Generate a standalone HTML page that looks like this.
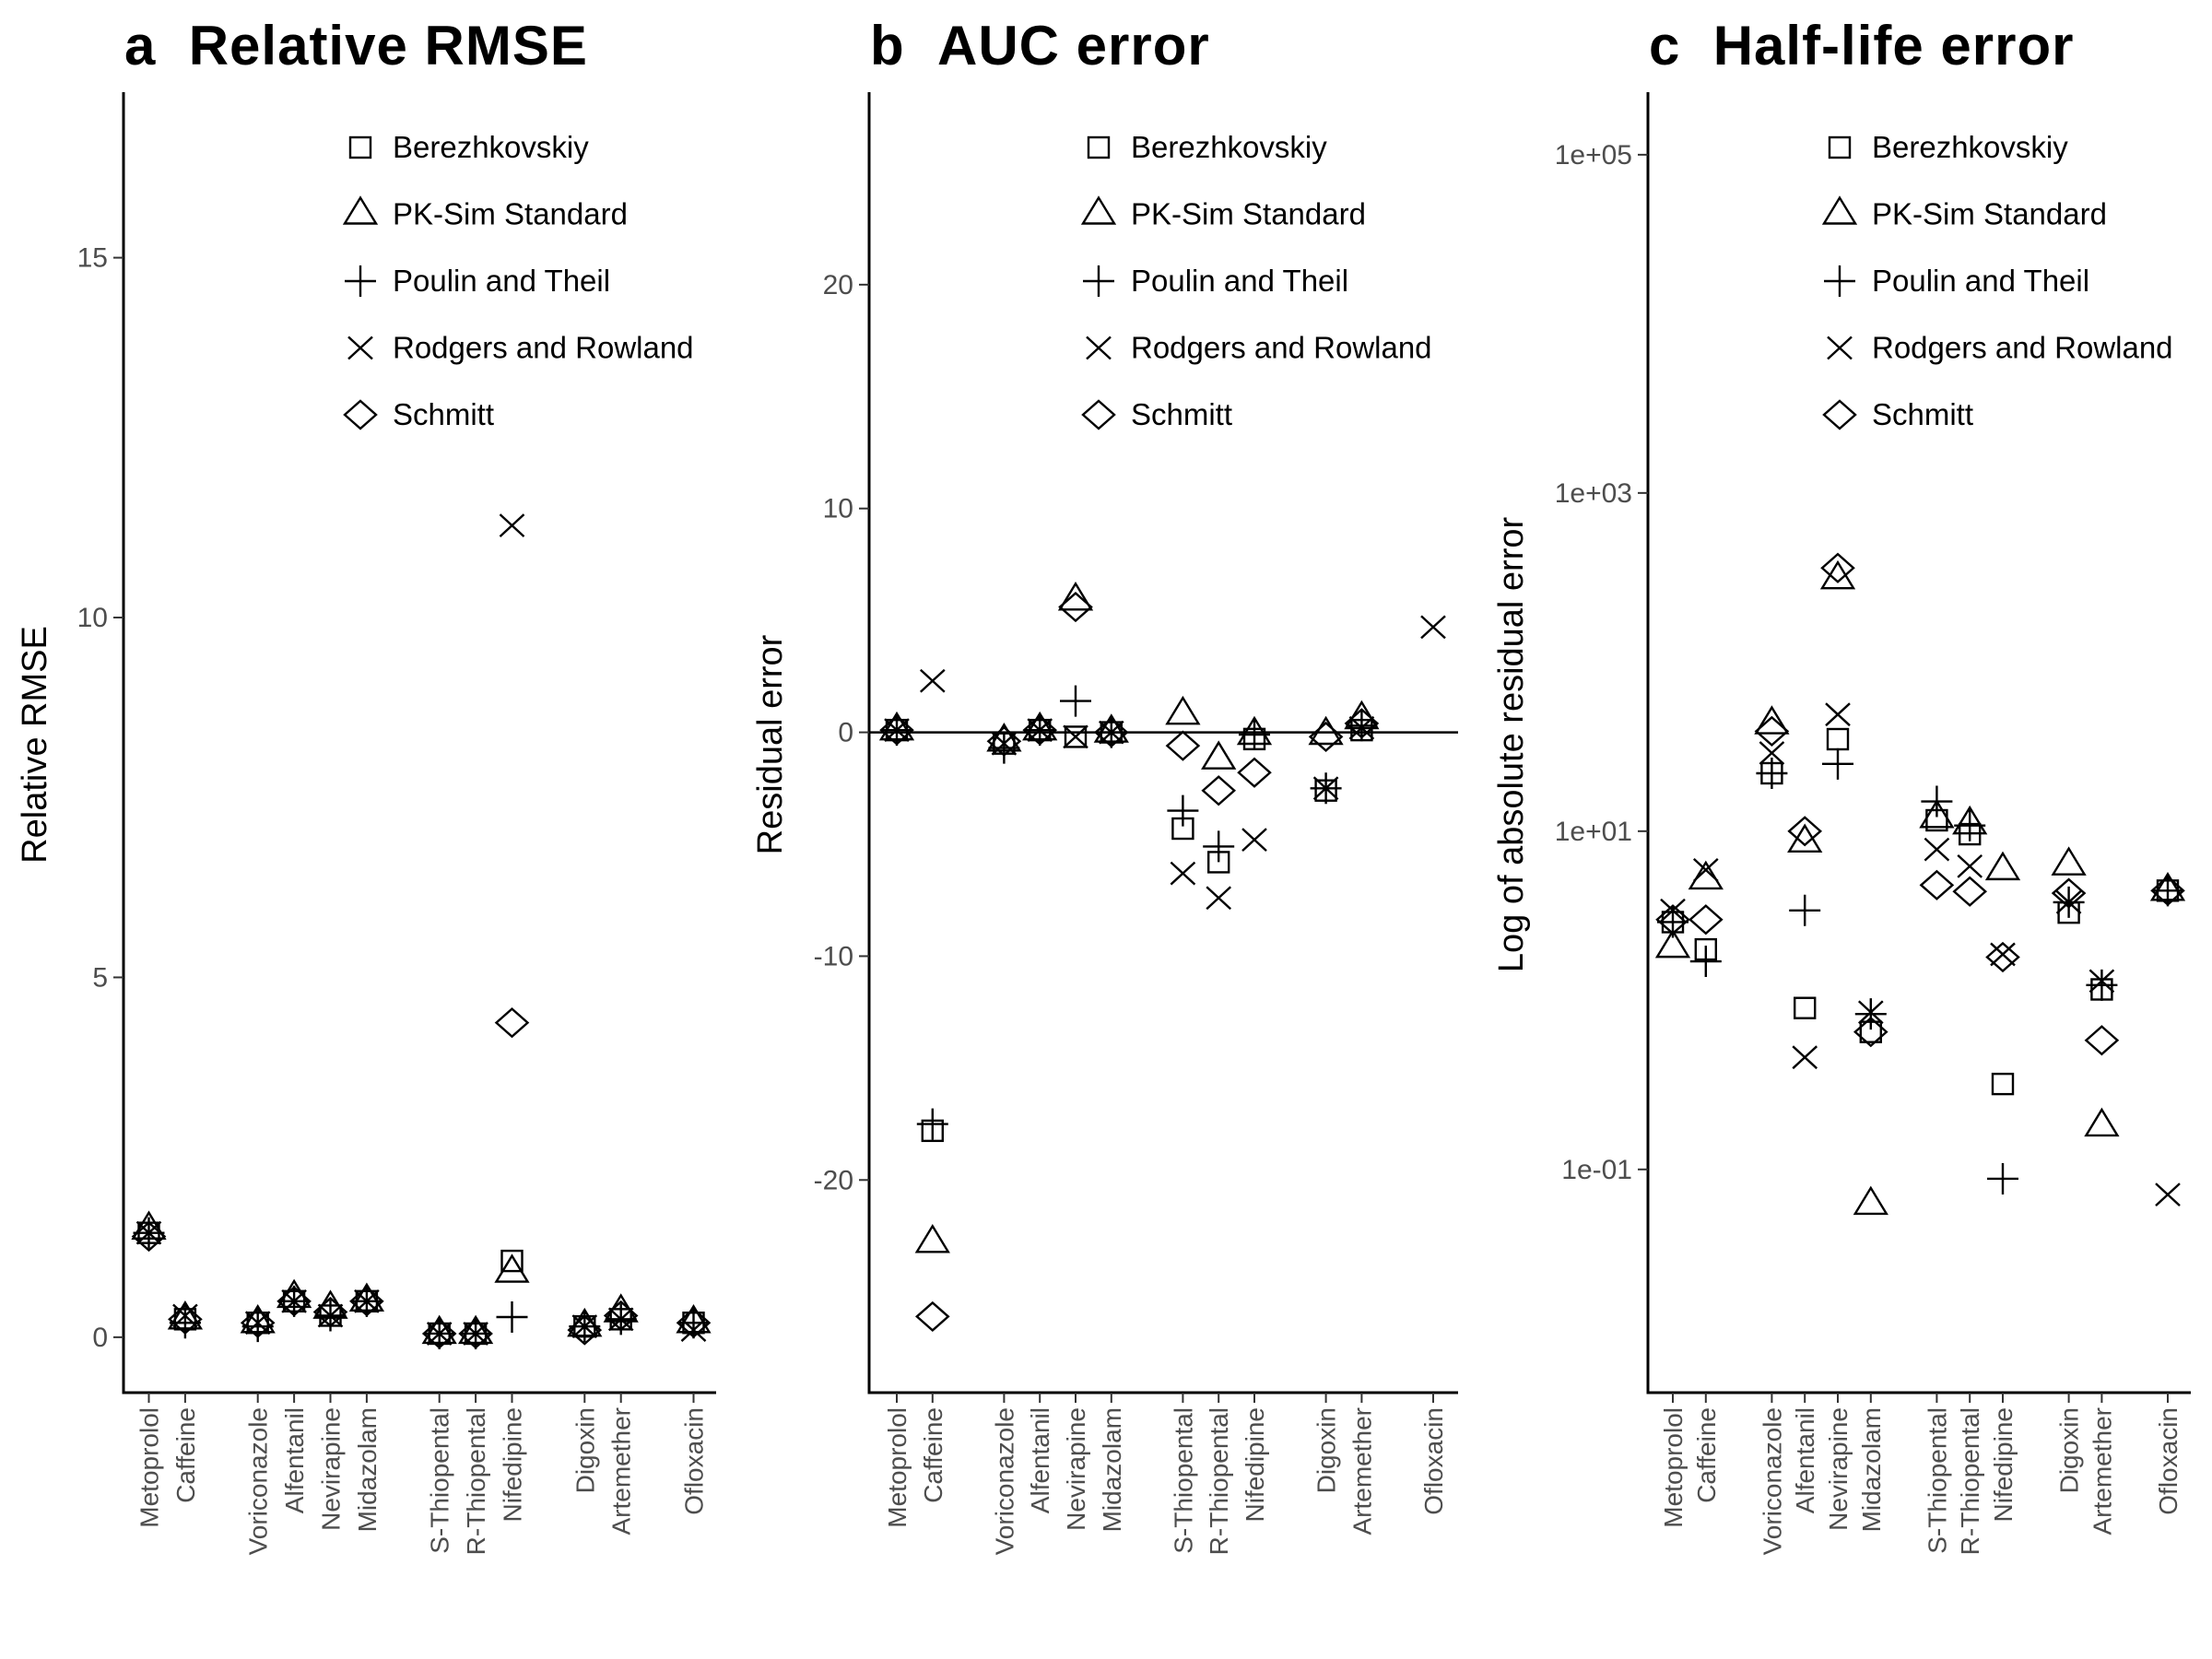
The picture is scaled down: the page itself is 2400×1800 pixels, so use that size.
<!DOCTYPE html>
<html><head><meta charset="utf-8"><style>
html,body{margin:0;padding:0;background:#fff;}
svg{display:block;font-family:"Liberation Sans",sans-serif;}
</style></head><body>
<svg id="chart" width="2400" height="1800" viewBox="0 0 2400 1800" xmlns="http://www.w3.org/2000/svg"></svg>
<script>
const categories = ["Metoprolol","Caffeine","Voriconazole","Alfentanil","Nevirapine","Midazolam","S-Thiopental","R-Thiopental","Nifedipine","Digoxin","Artemether","Ofloxacin"];
const slots = [0,1,3,4,5,6,8,9,10,12,13,15];
const seriesNames = ["Berezhkovskiy","PK-Sim Standard","Poulin and Theil","Rodgers and Rowland","Schmitt"];
const seriesShapes = ["square","triangle","plus","cross","diamond"];

// Panel a: Relative RMSE
const rmseB  = [1.45,0.25,0.2,0.5,0.3,0.5,0.05,0.05,1.06,0.15,0.25,0.2];
const rmseP  = [1.5,0.25,0.2,0.55,0.4,0.5,0.05,0.05,0.9,0.15,0.35,0.2];
const rmsePT = [1.45,0.2,0.15,0.5,0.3,0.5,0.05,0.05,0.28,0.15,0.25,0.2];
const rmseRR = [1.45,0.3,0.2,0.5,0.3,0.5,0.05,0.05,11.28,0.15,0.25,0.1];
const rmseS  = [1.4,0.25,0.2,0.5,0.35,0.5,0.05,0.05,4.37,0.1,0.3,0.2];
const rmseTicks = [0,5,10,15];

// Panel b: AUC residual error
const aucB  = [0.1,-17.8,-0.5,0.1,-0.2,0,-4.3,-5.8,-0.3,-2.6,0.1,null];
const aucP  = [0.1,-22.8,-0.4,0.1,5.9,0,0.8,-1.2,-0.1,-0.1,0.6,null];
const aucPT = [0.1,-17.5,-0.7,0.1,1.4,0,-3.5,-5.1,-0.1,-2.5,0.3,null];
const aucRR = [0.1,2.3,-0.5,0.1,-0.2,0,-6.3,-7.4,-4.8,-2.5,0.2,4.7];
const aucS  = [0.1,-26.1,-0.4,0.1,5.6,0,-0.6,-2.6,-1.8,-0.2,0.4,null];
const aucTicks = [-20,-10,0,10,20];

// Panel c: half-life absolute error (log scale)
const hlB  = [2.9,2.0,22,0.9,35,0.65,11.6,9.6,0.32,3.3,1.16,4.45];
const hlP  = [2.05,5.2,43,8.6,310,0.062,12,11,5.9,6.3,0.18,4.45];
const hlPT = [2.9,1.7,22,3.4,25,0.83,15,10.8,0.088,3.8,1.23,4.45];
const hlRR = [3.4,5.9,29,0.46,49,0.85,7.8,6.2,1.87,3.8,1.3,0.071];
const hlS  = [3.0,3.0,39,10,360,0.65,4.8,4.4,1.8,4.3,0.58,4.45];
const hlTicks = [-1,1,3,5];
const hlTickLabels = ["1e-01","1e+01","1e+03","1e+05"];

const NS="http://www.w3.org/2000/svg";
const svg=document.getElementById('chart');
function mk(tag,attrs,parent){const e=document.createElementNS(NS,tag);for(const k in attrs)e.setAttribute(k,attrs[k]);(parent||svg).appendChild(e);return e;}

function marker(g,shape,x,y){
  const st={fill:"none",stroke:"#000","stroke-width":2.4};
  let e;
  if(shape==="square"){e=mk('rect',Object.assign({x:x-11,y:y-11,width:22,height:22},st),g);}
  else if(shape==="triangle"){e=mk('path',Object.assign({d:`M${x-17},${y+10} L${x+17},${y+10} L${x},${y-18} Z`},st),g);}
  else if(shape==="plus"){e=mk('path',Object.assign({d:`M${x-17},${y} H${x+17} M${x},${y-17} V${y+17}`},st),g);}
  else if(shape==="cross"){e=mk('path',Object.assign({d:`M${x-13},${y-12} L${x+13},${y+12} M${x-13},${y+12} L${x+13},${y-12}`},st),g);}
  else {e=mk('path',Object.assign({d:`M${x-17},${y} L${x},${y-15} L${x+17},${y} L${x},${y+15} Z`},st),g);}
  return e;
}

function panel(cfg){
  const g=mk('g',{});
  
  
  const ax=cfg.axisX, top=100, bot=1511, right=cfg.right;
  const xs=i=>cfg.slot0+slots[i]*cfg.step;
  const ys=v=>{const t=cfg.log?Math.log10(v):v;return bot-(t-cfg.ymin)/(cfg.ymax-cfg.ymin)*(bot-top);};
  const ysRaw=t=>bot-(t-cfg.ymin)/(cfg.ymax-cfg.ymin)*(bot-top);
  const tt=mk('text',{x:ax+1,y:70,'font-size':60,'font-weight':'bold',fill:'#000','letter-spacing':1},g);
  tt.textContent=cfg.title;
  
  
  const yl=mk('line',{x1:ax,y1:top,x2:ax,y2:bot+1.5,stroke:'#000','stroke-width':3},g);
  
  
  const xl=mk('line',{x1:ax-1.5,y1:bot,x2:right,y2:bot,stroke:'#000','stroke-width':3},g);
  
  
  cfg.ticks.forEach((t,i)=>{
    const y=ysRaw(t);
    mk('line',{x1:ax-11,y1:y,x2:ax,y2:y,stroke:'#333','stroke-width':2},g);
    const lb=mk('text',{x:ax-17,y:y+10,'font-size':30,fill:'#4d4d4d','text-anchor':'end'},g);
    lb.textContent=cfg.tickLabels?cfg.tickLabels[i]:String(t);
    
    
  });
  if(cfg.zeroLine){
    const zl=mk('line',{x1:ax,y1:ysRaw(0),x2:right,y2:ysRaw(0),stroke:'#000','stroke-width':2.5},g);
    
    
  }
  categories.forEach((c,i)=>{
    const x=xs(i);
    mk('line',{x1:x,y1:bot,x2:x,y2:bot+11,stroke:'#333','stroke-width':2},g);
    const lb=mk('text',{x:0,y:0,'font-size':28,fill:'#4d4d4d','text-anchor':'end',transform:`translate(${x+10},${bot+16}) rotate(-90)`},g);
    lb.textContent=c;
    
    
  });
  const yt=mk('text',{x:0,y:0,'font-size':38,fill:'#000','text-anchor':'middle',transform:`translate(${cfg.ytitleX},808) rotate(-90)`},g);
  yt.textContent=cfg.ytitle;
  
  
  cfg.series.forEach((arr,si)=>{
    arr.forEach((v,i)=>{
      if(v===null||v===undefined)return;
      const m=marker(g,seriesShapes[si],xs(i),ys(v));
      
      
    });
  });
  seriesNames.forEach((n,si)=>{
    const y=160+si*72.5;
    const m=marker(g,seriesShapes[si],cfg.legX,y);
    
    
    const t=mk('text',{x:cfg.legX+35,y:y+11,'font-size':33,fill:'#000'},g);
    t.textContent=n;
    
    
  });
}

panel({name:'panel-a-relative-rmse',title:'a\u00a0\u00a0Relative RMSE',axisX:134,right:777,slot0:161.5,step:39.4,
  ymin:-0.77,ymax:17.3,ticks:rmseTicks,ytitle:'Relative RMSE',ytitleX:50,legX:391,
  series:[rmseB,rmseP,rmsePT,rmseRR,rmseS]});
panel({name:'panel-b-auc-error',title:'b\u00a0\u00a0AUC error',axisX:943,right:1582,slot0:973,step:38.8,
  ymin:-29.5,ymax:28.6,ticks:aucTicks,ytitle:'Residual error',ytitleX:848,legX:1192,zeroLine:true,
  series:[aucB,aucP,aucPT,aucRR,aucS]});
panel({name:'panel-c-half-life-error',title:'c\u00a0\u00a0Half-life error',axisX:1788,right:2377,slot0:1815,step:35.8,
  ymin:-2.32,ymax:5.37,log:true,ticks:hlTicks,tickLabels:hlTickLabels,ytitle:'Log of absolute residual error',ytitleX:1652,legX:1996,
  series:[hlB,hlP,hlPT,hlRR,hlS]});
</script>
</body></html>
